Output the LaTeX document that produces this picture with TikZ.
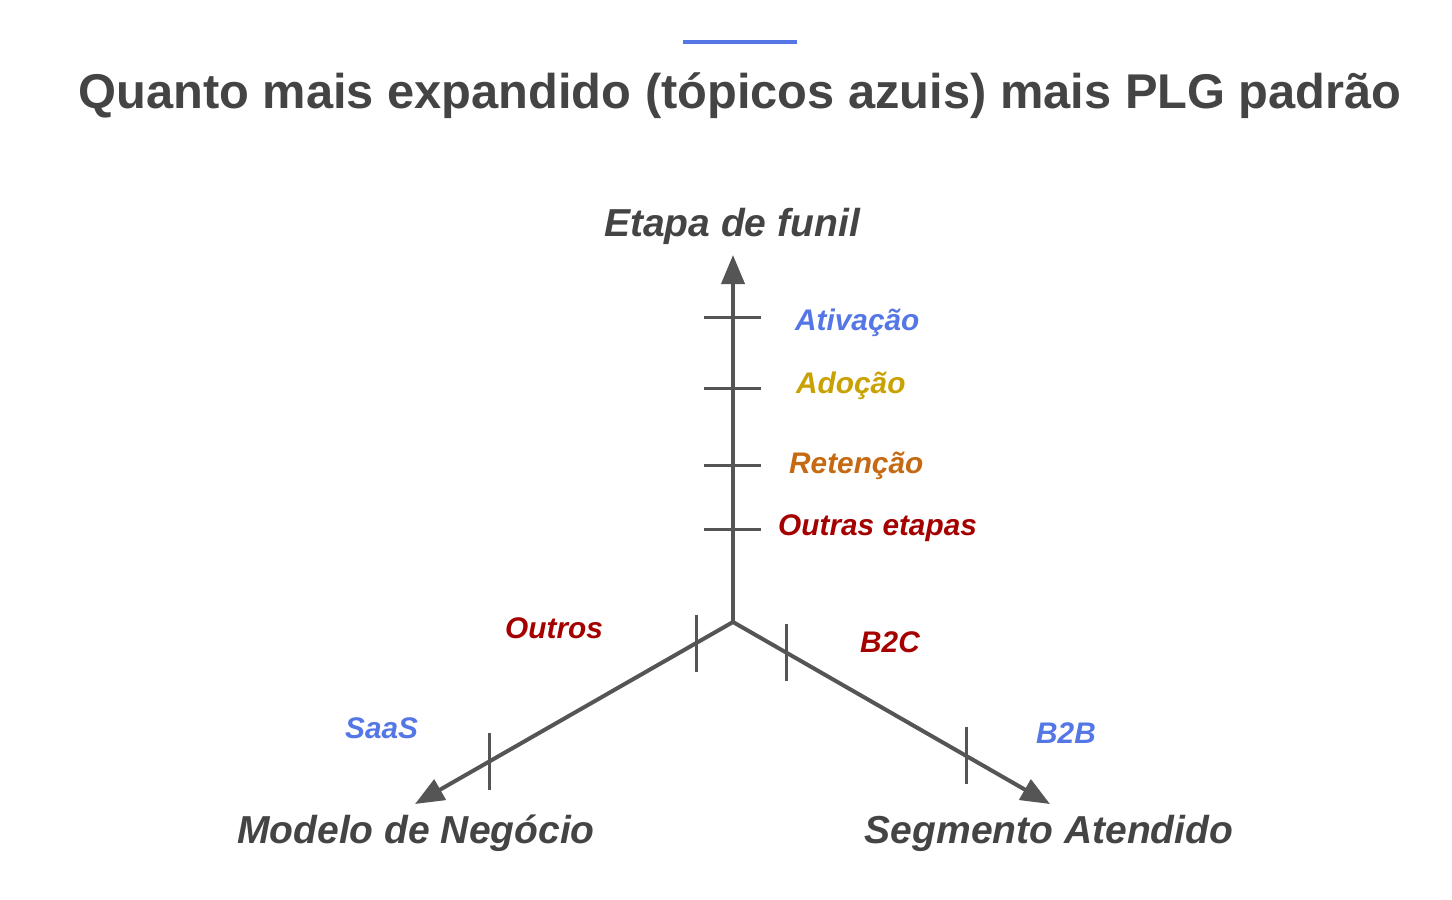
\documentclass[tikz,border=0pt]{standalone}
\usepackage{fontspec}
\setmainfont{Liberation Sans}
\usetikzlibrary{arrows.meta}
\definecolor{axisgray}{HTML}{555555}
\definecolor{titlegray}{HTML}{444444}
\definecolor{lblue}{HTML}{5577E6}
\definecolor{lgold}{HTML}{C9A100}
\definecolor{lorange}{HTML}{C56A12}
\definecolor{lred}{HTML}{A50000}
\begin{document}
\begin{tikzpicture}[x=1pt,y=-1pt,
  axis/.style={draw=axisgray,line width=4pt,-{Triangle[length=29pt,width=23pt]}},
  tickmark/.style={draw=axisgray,line width=3pt},
  axislabel/.style={font=\fontsize{39}{45}\selectfont\bfseries\itshape,text=titlegray,inner sep=0pt,anchor=base},
  catlabel/.style={font=\fontsize{29.8}{34}\selectfont\bfseries\itshape,inner sep=0pt,anchor=base west},
  title/.style={font=\fontsize{48.8}{56}\selectfont\bfseries,text=titlegray,inner sep=0pt,anchor=base}]
\useasboundingbox (0,0) rectangle (1452,900);
% title
\coordinate (bl) at (683,42);
\coordinate (br) at (797,42);
\draw[lblue,line width=4pt] (bl) -- (br);
\node[title] (ttl) at (740,108) {Quanto mais expandido (tópicos azuis) mais PLG padrão};
% axes
\coordinate (o) at (733,622);
\coordinate (up) at (733,255);
\coordinate (lf) at (415,804);
\coordinate (rt) at (1050,804);
\draw[axis] (o) -- (up);
\draw[axis] (o) -- (lf);
\draw[axis] (o) -- (rt);
% vertical axis ticks
\foreach \n/\yy in {t1/317,t2/388,t3/465,t4/529}{
  \coordinate (\n a) at (704,\yy);
  \coordinate (\n b) at (761,\yy);
  \draw[tickmark] (\n a) -- (\n b);
}
% left axis ticks
\path (o) -- (lf) coordinate[pos=0.116] (l1) coordinate[pos=0.767] (l2);
\draw[tickmark] ([yshift=-28.5pt]l1) -- ([yshift=28.5pt]l1);
\draw[tickmark] ([yshift=-28.5pt]l2) -- ([yshift=28.5pt]l2);
% right axis ticks
\path (o) -- (rt) coordinate[pos=0.170] (r1) coordinate[pos=0.735] (r2);
\draw[tickmark] ([yshift=-28.5pt]r1) -- ([yshift=28.5pt]r1);
\draw[tickmark] ([yshift=-28.5pt]r2) -- ([yshift=28.5pt]r2);
% axis labels
\node[axislabel] (funil) at (732,236) {Etapa de funil};
\node[axislabel] (modelo) at (416,843) {Modelo de Negócio};
\node[axislabel] (segmento) at (1049,843) {Segmento Atendido};
% category labels
\node[catlabel,text=lblue] (ativ) at (795,330) {Ativação};
\node[catlabel,text=lgold] (adoc) at (796,393) {Adoção};
\node[catlabel,text=lorange] (reten) at (789,473) {Retenção};
\node[catlabel,text=lred] (outras) at (778,535) {Outras etapas};
\node[catlabel,text=lred] (outros) at (505,638) {Outros};
\node[catlabel,text=lblue] (saas) at (345,738) {SaaS};
\node[catlabel,text=lred] (b2c) at (860,652) {B2C};
\node[catlabel,text=lblue] (b2b) at (1036,743) {B2B};
\end{tikzpicture}
\end{document}
